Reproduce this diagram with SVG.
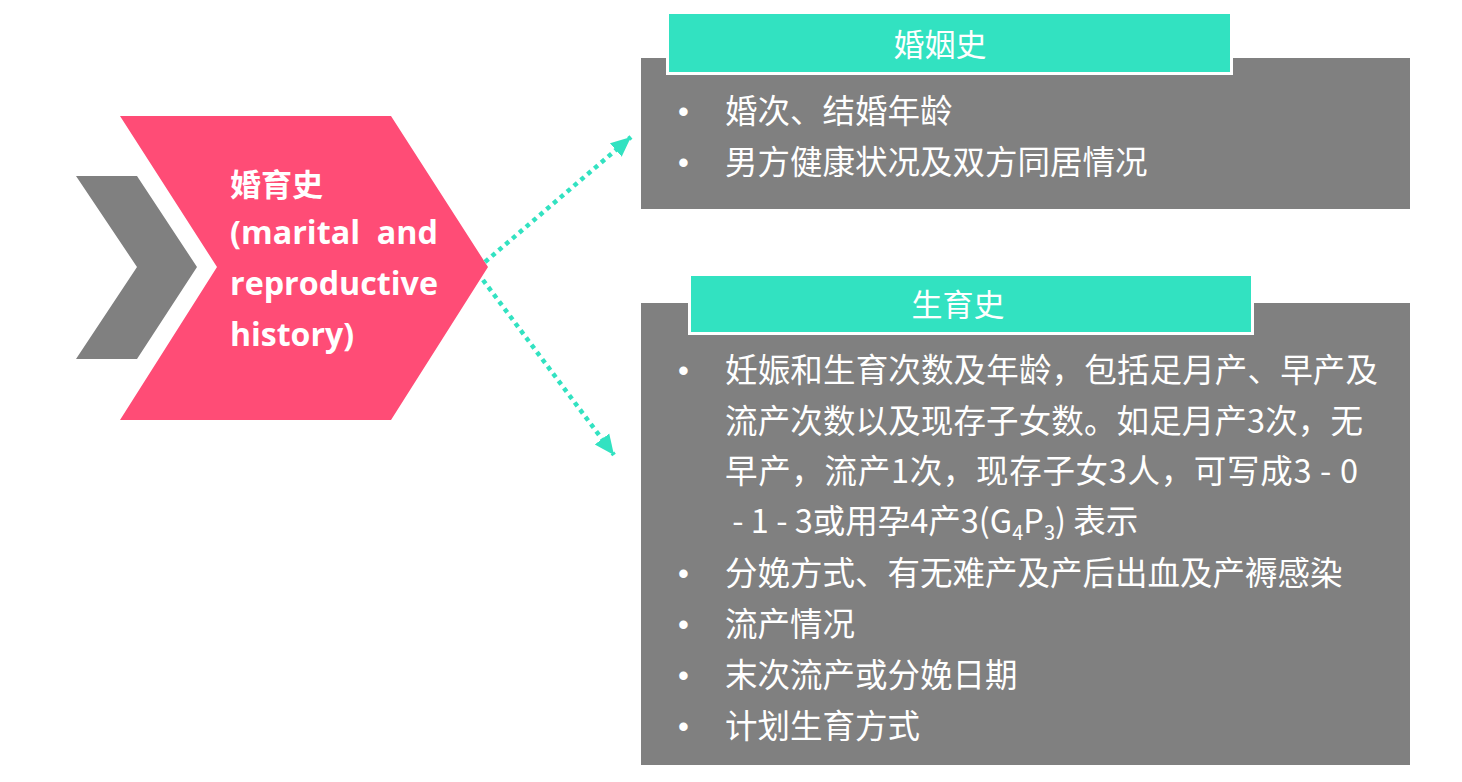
<svg xmlns="http://www.w3.org/2000/svg" width="1462" height="782" viewBox="0 0 1462 782">
<defs>
<style>
.cjk{font-family:"Noto Sans CJK SC","Noto Sans",sans-serif;fill:#fff;font-size:32.5px}
.bul{font-family:"Liberation Sans",sans-serif;fill:#fff;font-size:31px}
.hd{font-family:"Noto Sans CJK SC",sans-serif;fill:#fff;font-size:31px;text-anchor:middle}
.bold{font-family:"Noto Sans CJK SC","Open Sans",sans-serif;font-weight:bold;fill:#fff}
.en{font-family:"Open Sans","Noto Sans",sans-serif;font-weight:bold;fill:#fff;font-size:33px}
.conn{fill:none;stroke:#32E2C1;stroke-width:4.5;stroke-dasharray:4.5 4.5}
.gray{fill:#808080}
.teal{fill:#32E2C1;stroke:#fff;stroke-width:3}
</style>
<marker id="ah" markerUnits="userSpaceOnUse" markerWidth="24" markerHeight="24" viewBox="0 0 24 24" refX="20" refY="12" orient="auto">
<path d="M0,3 L20,12 L0,21 Z" fill="#32E2C1"/>
</marker>
</defs>

<g id="chevron-gray">
<polygon class="gray" points="76,176 137,176 197,267 137,359 76,359 137,267"/>
</g>

<g id="chevron-main">
<polygon fill="#FF4C76" points="120,116 391,116 488,267 391,420 120,420 217,267"/>
<text class="bold" x="230" y="196" font-size="31">婚育史</text>
<text class="en" x="230" y="244" textLength="208" lengthAdjust="spacingAndGlyphs" xml:space="preserve">(marital  and</text>
<text class="en" x="230" y="295" textLength="208" lengthAdjust="spacingAndGlyphs">reproductive</text>
<text class="en" x="230" y="346" textLength="124" lengthAdjust="spacingAndGlyphs">history)</text>
</g>

<g id="connectors">
<line class="conn" x1="485" y1="262" x2="631" y2="137" marker-end="url(#ah)"/>
<line class="conn" x1="483" y1="280" x2="614" y2="455" marker-end="url(#ah)"/>
</g>

<g id="marriage">
<rect class="gray" x="641" y="58" width="769" height="151"/>
<rect class="teal" x="667.5" y="12.5" width="564" height="61"/>
<text class="hd" x="940" y="56">婚姻史</text>
<text class="bul" x="678" y="122">•</text>
<text class="cjk" x="725" y="123">婚次、结婚年龄</text>
<text class="bul" x="678" y="173">•</text>
<text class="cjk" x="725" y="174">男方健康状况及双方同居情况</text>
</g>

<g id="reproduction">
<rect class="gray" x="641" y="303" width="769" height="462"/>
<rect class="teal" x="689.5" y="274.5" width="563" height="59"/>
<text class="hd" x="958" y="316">生育史</text>
<text class="bul" x="678" y="381">•</text>
<text class="cjk" x="725" y="382" textLength="653" lengthAdjust="spacing">妊娠和生育次数及年龄，包括足月产、早产及</text>
<text class="cjk" x="725" y="433" textLength="638" lengthAdjust="spacing">流产次数以及现存子女数。如足月产3次，无</text>
<text class="cjk" x="725" y="483" textLength="633" lengthAdjust="spacing">早产，流产1次，现存子女3人，可写成3 - 0</text>
<text class="cjk" x="725" y="533" xml:space="preserve"> - 1 - 3或用孕4产3(G<tspan font-size="20" dy="7">4</tspan><tspan dy="-7">P</tspan><tspan font-size="20" dy="7">3</tspan><tspan dy="-7">) 表示</tspan></text>
<text class="bul" x="678" y="584">•</text>
<text class="cjk" x="725" y="585">分娩方式、有无难产及产后出血及产褥感染</text>
<text class="bul" x="678" y="635">•</text>
<text class="cjk" x="725" y="636">流产情况</text>
<text class="bul" x="678" y="686">•</text>
<text class="cjk" x="725" y="687">末次流产或分娩日期</text>
<text class="bul" x="678" y="737">•</text>
<text class="cjk" x="725" y="738">计划生育方式</text>
</g>
</svg>
